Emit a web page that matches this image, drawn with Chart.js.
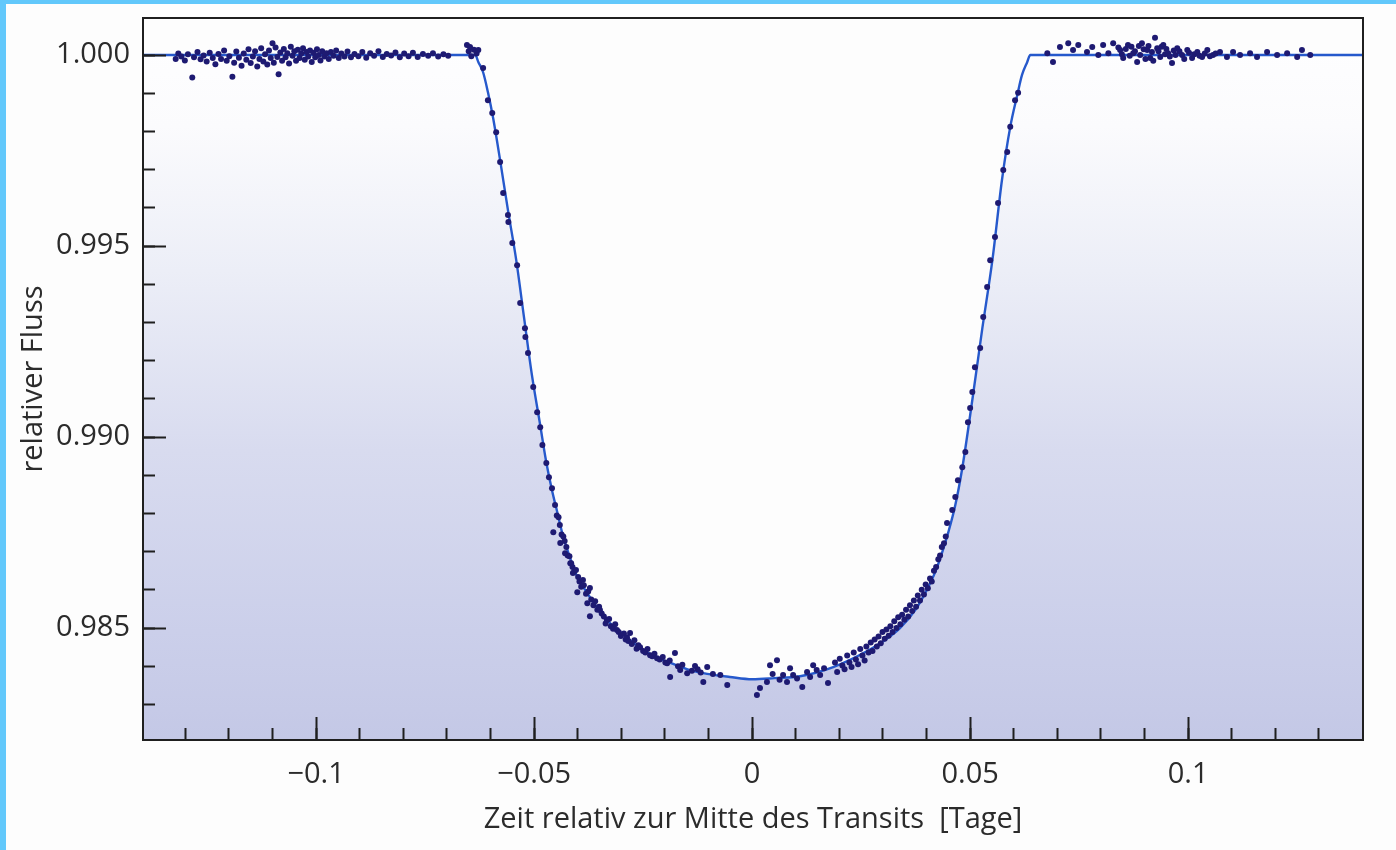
<!DOCTYPE html>
<html>
<head>
<meta charset="utf-8">
<script src="https://cdn.jsdelivr.net/npm/chart.js@4.4.1/dist/chart.umd.min.js"></script>
<style>
  html, body { margin: 0; padding: 0; background: #fdfdfd; }
  #caja { width: 1396px; height: 850px; position: relative; }
</style>
</head>
<body>
<div id="caja"><canvas id="myChart" width="1396" height="850"></canvas></div>
<script>
// Lichtkurve: Zeit relativ zur Mitte des Transits [Tage] / relativer Fluss

// modelo (curva ajustada)
const tModelo = [-0.1397,-0.0635,-0.0628,-0.0617,-0.0606,-0.0594,-0.0578,-0.0560,-0.0541,-0.0523,
  -0.0505,-0.0486,-0.0473,-0.0459,-0.0447,-0.0436,-0.0422,-0.0406,-0.0383,-0.0358,
  -0.0333,-0.0296,-0.0257,-0.0220,-0.0181,-0.0142,-0.0103,-0.0051,0,0.0051,
  0.0110,0.0186,0.0264,0.0305,0.0339,0.0374,0.0397,0.0420,0.0436,0.0450,
  0.0466,0.0482,0.0505,0.0528,0.0551,0.0573,0.0592,0.0608,0.0619,0.0631,
  0.0638,0.1401];
const fModelo = [1.00000,1.00000,0.99982,0.99955,0.99903,0.99835,0.99725,0.99594,0.99463,0.99312,
  0.99162,0.99031,0.98940,0.98861,0.98804,0.98751,0.98699,0.98647,0.98600,0.98558,
  0.98521,0.98484,0.98448,0.98424,0.98406,0.98390,0.98380,0.98372,0.98366,0.98369,
  0.98374,0.98398,0.98440,0.98469,0.98500,0.98547,0.98592,0.98647,0.98699,0.98751,
  0.98822,0.98919,0.99097,0.99285,0.99463,0.99673,0.99812,0.99895,0.99948,0.99982,
  1.00000,1.00000];

// mediciones antes del transito
const tAntes = [-0.1322,-0.1316,-0.1309,-0.1301,-0.1294,-0.1284,-0.1280,-0.1272,-0.1265,-0.1258,
  -0.1251,-0.1244,-0.1237,-0.1231,-0.1224,-0.1218,-0.1211,-0.1205,-0.1199,-0.1192,
  -0.1188,-0.1183,-0.1177,-0.1171,-0.1166,-0.1160,-0.1155,-0.1150,-0.1145,-0.1140,
  -0.1135,-0.1130,-0.1126,-0.1121,-0.1117,-0.1112,-0.1108,-0.1104,-0.1100,-0.1097,
  -0.1093,-0.1089,-0.1086,-0.1082,-0.1078,-0.1074,-0.1070,-0.1066,-0.1062,-0.1058,
  -0.1054,-0.1050,-0.1046,-0.1042,-0.1038,-0.1034,-0.1030,-0.1026,-0.1022,-0.1018,
  -0.1014,-0.1010,-0.1006,-0.1002,-0.0998,-0.0994,-0.0990,-0.0986,-0.0981,-0.0976,
  -0.0971,-0.0966,-0.0960,-0.0954,-0.0948,-0.0942,-0.0935,-0.0928,-0.0920,-0.0912,
  -0.0903,-0.0894,-0.0885,-0.0876,-0.0867,-0.0857,-0.0847,-0.0838,-0.0828,-0.0818,
  -0.0808,-0.0798,-0.0788,-0.0778,-0.0767,-0.0755,-0.0743,-0.0732,-0.0720,-0.0708,
  -0.0697,-0.0654,-0.0650,-0.0647,-0.0644,-0.0638,-0.0632,-0.0628];
const fAntes = [0.99990,1.00004,0.99996,0.99986,1.00002,0.99941,0.99994,1.00008,0.99989,0.99999,
  0.99983,1.00006,0.99992,0.99976,1.00003,0.99990,1.00012,0.99985,0.99997,0.99943,
  0.99980,1.00009,0.99993,0.99972,1.00004,0.99988,1.00015,0.99979,0.99996,1.00010,
  0.99970,0.99990,1.00018,0.99983,1.00002,0.99975,1.00012,0.99992,1.00031,0.99980,
  1.00020,0.99995,0.99950,1.00007,0.99985,1.00016,0.99994,1.00005,0.99978,1.00022,
  0.99998,1.00010,0.99985,1.00014,0.99992,1.00004,1.00018,0.99988,1.00008,0.99996,
  1.00012,0.99982,1.00006,0.99994,1.00015,1.00000,0.99986,1.00010,0.99996,1.00005,
  0.99990,1.00008,0.99998,1.00012,0.99992,1.00004,0.99996,1.00009,0.99994,1.00003,
  0.99997,1.00008,0.99993,1.00005,0.99998,1.00010,0.99995,1.00003,0.99999,1.00007,
  0.99994,1.00004,0.99997,1.00006,0.99995,1.00003,0.99998,1.00005,0.99996,1.00002,
  0.99998,1.00026,1.00010,1.00021,0.99997,1.00014,1.00004,1.00013];

// ingreso
const tIngreso = [-0.0617,-0.0606,-0.0596,-0.0587,-0.0578,-0.0571,-0.0560,-0.0559,-0.0550,-0.0539,
  -0.0532,-0.0521,-0.0520,-0.0514,-0.0502,-0.0493,-0.0486,-0.0481,-0.0472,-0.0466,-0.0459];
const fIngreso = [0.99966,0.99882,0.99848,0.99798,0.99720,0.99639,0.99581,0.99563,0.99508,0.99450,
  0.99351,0.99285,0.99262,0.99220,0.99131,0.99065,0.99026,0.98979,0.98932,0.98895,0.98866];

// fondo del transito, lado izquierdo
const tFondoIzq = [-0.0456,-0.0452,-0.0448,-0.0444,-0.0441,-0.0440,-0.0437,-0.0433,-0.0430,-0.0429,
  -0.0426,-0.0423,-0.0419,-0.0417,-0.0415,-0.0412,-0.0411,-0.0408,-0.0404,-0.0401,
  -0.0399,-0.0396,-0.0392,-0.0388,-0.0386,-0.0381,-0.0378,-0.0376,-0.0372,-0.0372,
  -0.0369,-0.0364,-0.0360,-0.0355,-0.0351,-0.0349,-0.0345,-0.0340,-0.0336,-0.0333,
  -0.0328,-0.0324,-0.0319,-0.0314,-0.0310,-0.0306,-0.0301,-0.0294,-0.0290,-0.0287,
  -0.0284,-0.0280,-0.0276,-0.0270,-0.0265,-0.0261,-0.0257,-0.0250,-0.0245,-0.0240,
  -0.0234,-0.0229,-0.0224,-0.0218,-0.0212,-0.0205,-0.0199,-0.0195,-0.0189,-0.0188,
  -0.0177,-0.0170,-0.0165,-0.0160,-0.0149,-0.0138,-0.0131,-0.0125,-0.0118,-0.0112,
  -0.0103,-0.0090,-0.0073,-0.0057];
const fFondoIzq = [0.98751,0.98822,0.98795,0.98790,0.98770,0.98723,0.98745,0.98740,0.98728,0.98696,
  0.98712,0.98690,0.98688,0.98670,0.98670,0.98660,0.98644,0.98648,0.98652,0.98594,
  0.98634,0.98622,0.98608,0.98626,0.98612,0.98590,0.98565,0.98596,0.98605,0.98531,
  0.98575,0.98560,0.98570,0.98548,0.98556,0.98547,0.98538,0.98530,0.98512,0.98521,
  0.98524,0.98505,0.98498,0.98510,0.98495,0.98490,0.98479,0.98486,0.98470,0.98476,
  0.98466,0.98487,0.98458,0.98468,0.98446,0.98455,0.98450,0.98440,0.98436,0.98445,
  0.98429,0.98426,0.98433,0.98421,0.98418,0.98424,0.98410,0.98408,0.98415,0.98372,
  0.98435,0.98400,0.98390,0.98404,0.98382,0.98388,0.98401,0.98392,0.98384,0.98359,
  0.98398,0.98380,0.98377,0.98351];

// fondo del transito, lado derecho
const tFondoDer = [0.0011,0.0018,0.0034,0.0041,0.0047,0.0057,0.0063,0.0071,0.0080,0.0087,
  0.0094,0.0103,0.0115,0.0126,0.0133,0.0140,0.0148,0.0156,0.0165,0.0174,
  0.0190,0.0195,0.0201,0.0207,0.0212,0.0218,0.0223,0.0228,0.0233,0.0238,
  0.0243,0.0248,0.0253,0.0258,0.0262,0.0267,0.0272,0.0276,0.0281,0.0286,
  0.0290,0.0295,0.0299,0.0304,0.0308,0.0313,0.0317,0.0322,0.0326,0.0331,
  0.0335,0.0340,0.0344,0.0349,0.0353,0.0358,0.0362,0.0367,0.0371,0.0376,
  0.0380,0.0385,0.0389,0.0394,0.0398,0.0403,0.0408,0.0412,0.0417,0.0422,
  0.0427,0.0431,0.0435,0.0440,0.0444];
const fFondoDer = [0.98325,0.98343,0.98359,0.98403,0.98380,0.98416,0.98365,0.98377,0.98359,0.98395,
  0.98377,0.98368,0.98346,0.98385,0.98372,0.98403,0.98390,0.98377,0.98395,0.98356,
  0.98410,0.98385,0.98420,0.98402,0.98392,0.98428,0.98410,0.98398,0.98436,0.98418,
  0.98405,0.98445,0.98428,0.98415,0.98452,0.98436,0.98462,0.98440,0.98470,0.98452,
  0.98478,0.98460,0.98490,0.98472,0.98496,0.98480,0.98505,0.98490,0.98518,0.98500,
  0.98528,0.98510,0.98535,0.98522,0.98548,0.98530,0.98560,0.98545,0.98572,0.98556,
  0.98585,0.98572,0.98600,0.98588,0.98614,0.98604,0.98630,0.98622,0.98650,0.98660,
  0.98680,0.98690,0.98712,0.98722,0.98740];

// egreso
const tEgreso = [0.0447,0.0459,0.0466,0.0472,0.0482,0.0489,0.0495,0.0500,0.0505,0.0511,
  0.0523,0.0530,0.0539,0.0546,0.0557,0.0564,0.0576,0.0585,0.0592,0.0603,0.0610];
const fEgreso = [0.98775,0.98809,0.98843,0.98887,0.98921,0.98961,0.99039,0.99076,0.99118,0.99183,
  0.99233,0.99314,0.99393,0.99463,0.99524,0.99613,0.99699,0.99746,0.99812,0.99882,0.99901];

// mediciones despues del transito
const tDespues = [0.0677,0.0690,0.0706,0.0725,0.0736,0.0748,0.0768,0.0780,0.0794,0.0805,
  0.0817,0.0828,0.0840,0.0844,0.0848,0.0851,0.0857,0.0862,0.0866,0.0870,
  0.0874,0.0878,0.0883,0.0887,0.0890,0.0894,0.0898,0.0902,0.0906,0.0909,
  0.0913,0.0917,0.0920,0.0924,0.0929,0.0932,0.0936,0.0939,0.0943,0.0947,
  0.0950,0.0954,0.0958,0.0963,0.0967,0.0971,0.0975,0.0980,0.0986,0.0991,
  0.0998,0.1002,0.1009,0.1014,0.1021,0.1026,0.1032,0.1038,0.1044,0.1050,
  0.1057,0.1063,0.1073,0.1089,0.1103,0.1119,0.1142,0.1158,0.1181,0.1204,
  0.1227,0.1250,0.1261,0.1280];
const fDespues = [1.00005,0.99982,1.00021,1.00031,1.00013,1.00026,1.00008,1.00021,1.00000,1.00026,
  1.00005,1.00031,1.00020,1.00013,1.00002,0.99992,1.00016,1.00026,0.99998,1.00022,
  1.00005,1.00010,0.99982,1.00024,1.00000,1.00031,1.00015,0.99990,1.00013,1.00024,
  0.99992,1.00008,0.99985,1.00045,1.00018,1.00010,0.99995,1.00022,1.00026,1.00002,
  1.00016,1.00005,0.99996,0.99979,1.00012,1.00000,1.00018,1.00010,1.00000,0.99990,
  1.00013,1.00006,0.99992,1.00002,1.00008,0.99998,0.99995,1.00004,1.00013,0.99997,
  1.00000,1.00004,1.00008,0.99995,1.00008,1.00000,1.00005,0.99995,1.00008,1.00000,
  1.00005,0.99995,1.00013,1.00000];

// ejes
const ticksX = [-0.1, -0.05, 0, 0.05, 0.1];
const ticksXMenor = [-0.13,-0.12,-0.11,-0.10,-0.09,-0.08,-0.07,-0.06,-0.05,-0.04,-0.03,-0.02,-0.01,0,
  0.01,0.02,0.03,0.04,0.05,0.06,0.07,0.08,0.09,0.10,0.11,0.12,0.13];
const ticksY = [0.985, 0.990, 0.995, 1.000];
const ticksYMenor = [0.983,0.984,0.985,0.986,0.987,0.988,0.989,0.990,0.991,0.992,0.993,0.994,0.995,
  0.996,0.997,0.998,0.999,1.000];
const xMin = -0.1397, xMax = 0.1401;
const yMin = 0.98207, yMax = 1.00097;

const fuente = 'Open Sans';
const colorTexto = '#2b2b2b';
const colorEje = '#1f1f1f';

function juntar(xs, ys) {
  return xs.map((x, i) => ({ x: x, y: ys[i] }));
}

const puntosObs = [].concat(
  juntar(tAntes, fAntes),
  juntar(tIngreso, fIngreso),
  juntar(tFondoIzq, fFondoIzq),
  juntar(tFondoDer, fFondoDer),
  juntar(tEgreso, fEgreso),
  juntar(tDespues, fDespues)
);

// degradado del papel escaneado (debajo de la curva)
function fondoDegradado(context) {
  const chart = context.chart;
  const area = chart.chartArea;
  if (!area) return 'rgba(0,0,0,0)';
  const g = chart.ctx.createLinearGradient(0, area.top, 0, area.bottom);
  g.addColorStop(0, '#ffffff');
  g.addColorStop(0.15, '#fbfbfd');
  g.addColorStop(0.35, '#eceef7');
  g.addColorStop(0.6, '#d8dbef');
  g.addColorStop(0.85, '#cbcfea');
  g.addColorStop(1, '#c4c8e6');
  return g;
}

// sin relleno extra alrededor de las etiquetas
function sinPadding(s) {
  s.paddingTop = 0;
  s.paddingBottom = 0;
  s.paddingLeft = 0;
  s.paddingRight = 0;
}

const marco = {
  id: 'marco',
  beforeDraw(chart) {
    const c = chart.ctx;
    c.save();
    c.fillStyle = '#fdfdfd';
    c.fillRect(0, 0, chart.width, chart.height);
    c.fillStyle = '#62c8fb';
    c.fillRect(0, 0, chart.width, 4);
    c.fillRect(0, 0, 6, chart.height);
    c.restore();
  },
  afterDraw(chart) {
    const a = chart.chartArea;
    const c = chart.ctx;
    c.save();
    c.strokeStyle = colorEje;
    c.lineWidth = 2;
    c.strokeRect(a.left, a.top, a.right - a.left, a.bottom - a.top);
    c.restore();
  }
};

function ejeMenor(pos, lista) {
  const eje = {
    type: 'linear', position: pos, weight: 0,
    min: pos === 'bottom' ? xMin : yMin,
    max: pos === 'bottom' ? xMax : yMax,
    afterBuildTicks: s => { s.ticks = lista.map(v => ({ value: v })); },
    afterFit: s => { if (pos === 'bottom') s.height = 0; else s.width = 0; sinPadding(s); },
    grid: { z: 1, drawOnChartArea: false, drawTicks: true, tickLength: -12, tickWidth: 2, tickColor: colorEje },
    border: { display: false },
    ticks: { display: false }
  };
  return eje;
}

function prepararConfiguracion() {
  const config = {
    type: 'scatter',
    data: {
      datasets: [
        {
          label: 'Messung',
          data: puntosObs,
          pointRadius: 3,
          pointBackgroundColor: '#1e1a72',
          pointBorderWidth: 0,
          showLine: false
        },
        {
          type: 'line',
          label: 'Modell',
          data: juntar(tModelo, fModelo),
          borderColor: '#2659cc',
          borderWidth: 2.4,
          pointRadius: 0,
          cubicInterpolationMode: 'monotone',
          fill: 'start',
          backgroundColor: fondoDegradado
        }
      ]
    },
    options: {
      responsive: false,
      animation: false,
      layout: { padding: { left: 0, top: 18, right: 33, bottom: 0 } },
      plugins: { legend: { display: false }, tooltip: { enabled: false } },
      scales: {
        x: {
          type: 'linear', position: 'bottom', weight: 1, min: xMin, max: xMax,
          afterBuildTicks: s => { s.ticks = ticksX.map(v => ({ value: v })); },
          afterFit: s => { s.height = 110; sinPadding(s); },
          grid: { z: 1, drawOnChartArea: false, drawTicks: true, tickLength: -23, tickWidth: 2, tickColor: colorEje },
          border: { z: 1, display: true, color: colorEje, width: 2 },
          ticks: {
            autoSkip: false, maxRotation: 0, padding: 40, color: colorTexto,
            font: { family: fuente, size: 29 },
            callback: v => v === 0 ? '0' : (v < 0 ? '\u2212' : '') + Math.abs(v)
          },
          title: {
            display: true, text: 'Zeit relativ zur Mitte des Transits  [Tage]', color: colorTexto,
            font: { family: fuente, size: 29 }, padding: { top: 0, bottom: 13 }
          }
        },
        xMenor: ejeMenor('bottom', ticksXMenor),
        y: {
          type: 'linear', position: 'left', weight: 1, min: yMin, max: yMax,
          afterBuildTicks: s => { s.ticks = ticksY.map(v => ({ value: v })); },
          afterFit: s => { s.width = 143; sinPadding(s); },
          grid: { z: 1, drawOnChartArea: false, drawTicks: true, tickLength: -23, tickWidth: 2, tickColor: colorEje },
          border: { z: 1, display: true, color: colorEje, width: 2 },
          ticks: {
            padding: 36, color: colorTexto,
            font: { family: fuente, size: 29 },
            callback: v => v.toFixed(3)
          },
          title: {
            display: true, text: 'relativer Fluss', color: colorTexto,
            font: { family: fuente, size: 29 }, padding: { top: 16, bottom: 0 }
          }
        },
        yMenor: ejeMenor('left', ticksYMenor)
      }
    },
    plugins: [marco]
  };
  return config;
}

const chartDOM = document.getElementById('myChart');
new Chart(chartDOM, prepararConfiguracion());
</script>
</body>
</html>
